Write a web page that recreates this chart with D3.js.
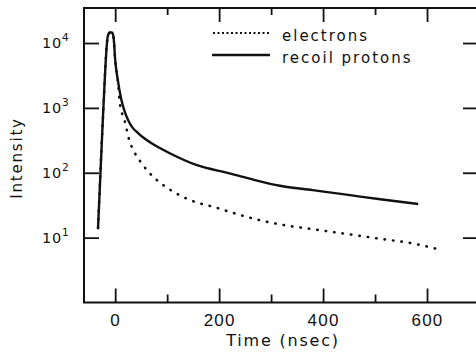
<!DOCTYPE html>
<html>
<head>
<meta charset="utf-8">
<script src="https://cdn.jsdelivr.net/npm/d3@7"></script>
<style>
  body { margin: 0; background: #fff; }
  svg { display: block; font-family: "DejaVu Sans", sans-serif; }
</style>
</head>
<body>
<svg id="chart" width="476" height="353"></svg>
<script>
// values
const protonTime = [-33, -24, -14, -10, -6, -3, 0, 5, 12, 18, 25, 33, 44, 56, 70, 105, 156, 220, 259, 317, 380, 445, 510, 583];
const protonValue = [14, 600, 13000, 14500, 14500, 12000, 5500, 2700, 1320, 890, 645, 500, 410, 340, 284, 200, 132, 98, 81, 63, 54, 46, 39, 33];

const electronTime = [-33, -24, -14, -10, -6, -3, 0, 5, 9, 18, 28, 34, 47, 73, 92, 124, 156, 188, 220, 252, 317, 380, 445, 510, 574, 622];
const electronValue = [14, 600, 13000, 14500, 14500, 12000, 5500, 2700, 1170, 645, 300, 230, 155, 87, 65, 45, 35, 30, 25, 21, 16, 13.5, 11.4, 9.6, 8.1, 6.6];

const xMajor = [0, 200, 400, 600];
const xMinor = [100, 300, 500];
const yTicks = [10, 100, 1000, 10000];
const legendLabels = ['electrons', 'recoil protons'];

const ink = '#111';
const svg = d3.select('#chart');

const x = d3.scaleLinear().domain([-60, 700]).range([84, 479]);
const y = d3.scaleLog().domain([1, Math.pow(10, 4.54)]).range([302.5, 8]);

const line = d3.line()
  .x(d => x(d[0]))
  .y(d => y(d[1]))
  .curve(d3.curveMonotoneX);

// axes
function styleAxis(g) {
  g.select('.domain').remove();
  g.selectAll('.tick line').attr('stroke', ink).attr('stroke-width', 1.8);
  g.selectAll('.tick text').attr('fill', ink);
}

svg.append('g')
  .attr('transform', `translate(0,${y.range()[0]})`)
  .call(d3.axisBottom(x).tickValues(xMajor).tickSize(-14).tickPadding(23))
  .call(styleAxis)
  .selectAll('.tick text')
  .attr('font-size', 17)
  .attr('letter-spacing', 1.2)
  .attr('dy', 0);

svg.append('g')
  .attr('transform', `translate(0,${y.range()[0]})`)
  .call(d3.axisBottom(x).tickValues(xMinor).tickSize(-8).tickFormat(''))
  .call(styleAxis);

svg.append('g')
  .attr('transform', `translate(0,${y.range()[1]})`)
  .call(d3.axisTop(x).tickValues(xMajor).tickSize(-14).tickFormat(''))
  .call(styleAxis);

svg.append('g')
  .attr('transform', `translate(0,${y.range()[1]})`)
  .call(d3.axisTop(x).tickValues(xMinor).tickSize(-7).tickFormat(''))
  .call(styleAxis);

svg.append('g')
  .attr('transform', `translate(${x.range()[0]},0)`)
  .call(d3.axisLeft(y).tickValues(yTicks).tickSize(-15).tickFormat(''))
  .call(styleAxis);

svg.append('g')
  .attr('transform', `translate(${x.range()[1]},0)`)
  .call(d3.axisRight(y).tickValues(yTicks).tickSize(-16).tickFormat(''))
  .call(styleAxis);

// y tick labels 10^n
const yLab = svg.append('g').selectAll('text')
  .data(yTicks)
  .join('text')
  .attr('x', 42)
  .attr('y', d => y(d) + 5)
  .attr('fill', ink)
  .attr('font-size', 14.5)
  .attr('letter-spacing', 0.8);
yLab.append('tspan').text('10');
yLab.append('tspan')
  .attr('dy', -7)
  .attr('font-size', 10.5)
  .text(d => Math.round(Math.log10(d)));

// frame
svg.append('path')
  .attr('d', `M${x.range()[1]},${y.range()[1]}H${x.range()[0]}V${y.range()[0]}H${x.range()[1]}`)
  .attr('fill', 'none')
  .attr('stroke', ink)
  .attr('stroke-width', 2);

// curves
svg.append('path')
  .datum(d3.zip(electronTime, electronValue))
  .attr('fill', 'none')
  .attr('stroke', ink)
  .attr('stroke-width', 2.6)
  .attr('stroke-linecap', 'round')
  .attr('stroke-dasharray', '0.5,8')
  .attr('d', line);

svg.append('path')
  .datum(d3.zip(protonTime, protonValue))
  .attr('fill', 'none')
  .attr('stroke', ink)
  .attr('stroke-width', 2.4)
  .attr('d', line);

// axis titles
svg.append('text')
  .attr('x', 283)
  .attr('y', 346)
  .attr('text-anchor', 'middle')
  .attr('font-size', 16)
  .attr('letter-spacing', 1.8)
  .attr('fill', ink)
  .text('Time (nsec)');

svg.append('text')
  .attr('transform', 'translate(22,158) rotate(-90)')
  .attr('text-anchor', 'middle')
  .attr('font-size', 15)
  .attr('letter-spacing', 1.8)
  .attr('fill', ink)
  .text('Intensity');

// legend
const legend = svg.append('g');
legend.append('line')
  .attr('x1', 213).attr('x2', 269).attr('y1', 33).attr('y2', 33)
  .attr('stroke', ink).attr('stroke-width', 2)
  .attr('stroke-dasharray', '2,2.5');
legend.append('line')
  .attr('x1', 212).attr('x2', 270).attr('y1', 55).attr('y2', 55)
  .attr('stroke', ink).attr('stroke-width', 2.4);
legend.selectAll('text')
  .data(legendLabels)
  .join('text')
  .attr('x', 282)
  .attr('y', (d, i) => 41 + i * 22)
  .attr('font-size', 15)
  .attr('letter-spacing', 2)
  .attr('fill', ink)
  .text(d => d);
</script>
</body>
</html>
